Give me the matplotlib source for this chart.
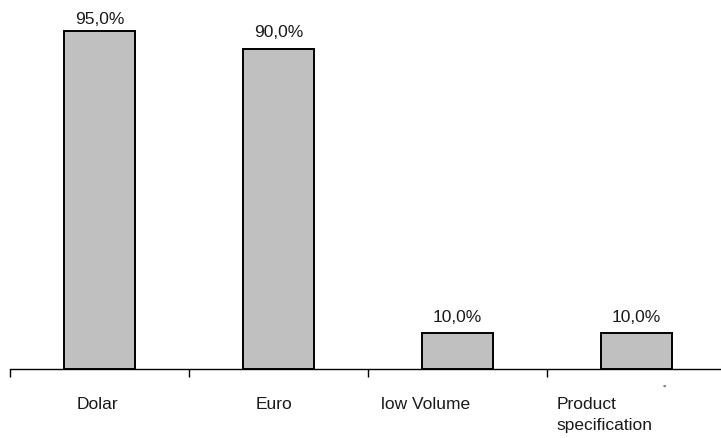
import numpy as np
from matplotlib import pyplot as plt

categorias = ["Dolar", "Euro", "low Volume", "Product\nspecification"]
valores = [95.0, 90.0, 10.0, 10.0]
etiquetas = ["95,0%", "90,0%", "10,0%", "10,0%"]

plt.rcParams['font.family'] = ['Liberation Sans', 'DejaVu Sans']

fig = plt.figure(figsize=(7.21, 4.39), dpi=100)
ax = fig.add_axes([10 / 721, 69 / 439, 711 / 721, 370 / 439])

x = np.arange(len(categorias))
ax.bar(x, valores, width=0.4, color="#c0c0c0", edgecolor="black", linewidth=1.4)

# valores encima de cada barra (el de arriba queda limitado por el borde)
for xi, v, t in zip(x, valores, etiquetas):
    ax.text(xi, min(v + 2.7, 96.3), t, ha="center", va="bottom",
            fontsize=12.5, color="#1a1a1a")

ax.set_xlim(-0.5, 3.472)
ax.set_ylim(0, 104)

for lado in ["top", "right", "left"]:
    ax.spines[lado].set_visible(False)
ax.spines["bottom"].set_linewidth(1.0)
ax.set_yticks([])

# marcas entre categorias
ax.set_xticks([-0.5, 0.5, 1.5, 2.5])
ax.set_xticklabels([])
ax.tick_params(axis="x", direction="out", length=6, width=1.0, color="black")

# nombres de categoria debajo del eje
posX = [-0.13, -0.13, -0.425, -0.445]
for xi, dx, nombre in zip(x, posX, categorias):
    ax.text(xi + dx, -7.6, nombre, ha="left", va="top", fontsize=12.5,
            color="#1a1a1a", linespacing=1.5, clip_on=False)

ax.text(3.155, -4.2, "''", ha="center", va="top", fontsize=8, color="#555555", clip_on=False)

plt.savefig("out.png", dpi=100)
plt.close()
